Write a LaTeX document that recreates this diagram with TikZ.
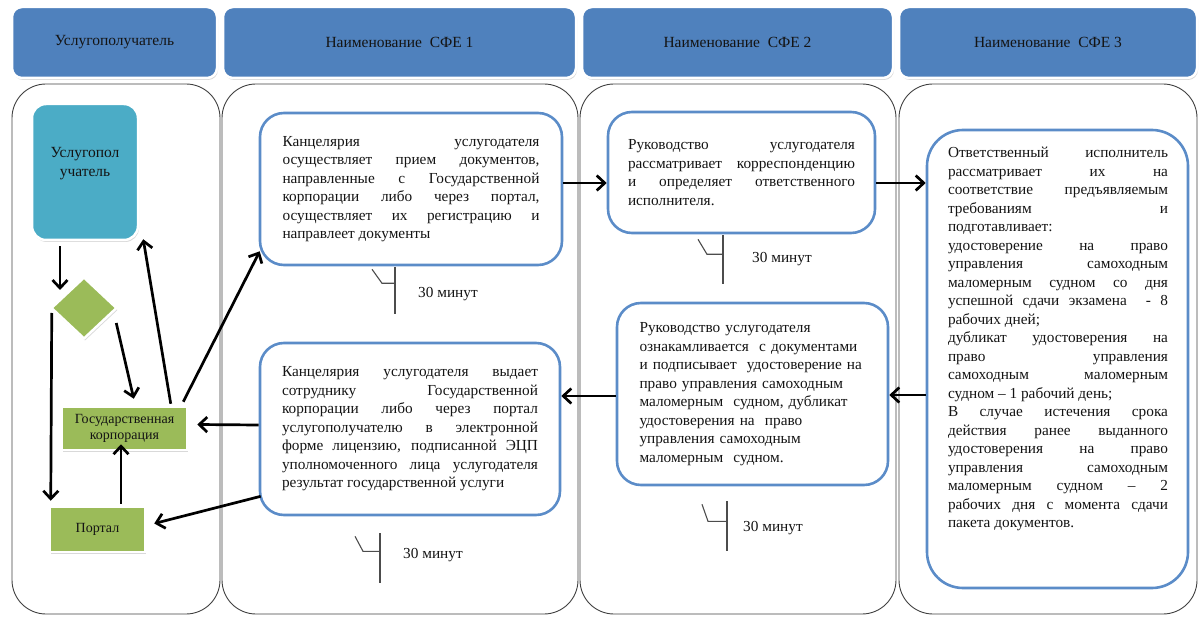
\documentclass[tikz,border=0pt]{standalone}
\usepackage{fontspec}
\setmainfont{Liberation Serif}
\usetikzlibrary{arrows.meta,shapes.geometric,shadows,calc}
\definecolor{hdrblue}{HTML}{4F81BD}
\definecolor{boxblue}{HTML}{5B8CC8}
\definecolor{uslteal}{HTML}{4BACC6}
\definecolor{grn}{HTML}{9BBB59}
\definecolor{ink}{HTML}{141414}
\setlength{\parindent}{0pt}
\tolerance=10000
\hbadness=10000
\hyphenpenalty=10000
\exhyphenpenalty=10000
\newcommand\bodyfont{\fontsize{15.3}{18.5}\selectfont}
\tikzset{
  hdr/.style={draw=white, line width=2.5pt, fill=hdrblue, rounded corners=10pt,
    drop shadow={opacity=0.3, shadow xshift=1pt, shadow yshift=-2pt},
    font=\fontsize{15.5}{18}\selectfont, text=ink, inner sep=0pt},
  lane/.style={draw=black!75, line width=0.9pt, rounded corners=34pt, inner sep=0pt},
  proc/.style={draw=boxblue, line width=2.6pt, fill=white, rounded corners=24pt,
    font=\bodyfont, text=ink, inner sep=0pt},
  colbox/.style={draw=white, line width=2.5pt, fill=grn, inner sep=0pt,
    drop shadow={opacity=0.3, shadow xshift=1pt, shadow yshift=-2pt},
    font=\fontsize{14}{16.5}\selectfont, text=ink, align=center},
  arr/.style={line width=2.7pt, -{Straight Barb[length=8pt,width=15pt]}},
  tmr/.style={line width=1.1pt, draw=black!70},
  tlabel/.style={font=\fontsize{15.3}{18}\selectfont, text=ink, inner sep=0pt}
}
\begin{document}
\begin{tikzpicture}[x=1pt,y=-1pt]
\useasboundingbox (0,0) rectangle (1202,628);
% lanes
\node[lane, minimum width=208, minimum height=530] (lane1) at (116,349) {};
\node[lane, minimum width=356, minimum height=530] (lane2) at (400,349) {};
\node[lane, minimum width=316, minimum height=530] (lane3) at (738,349) {};
\node[lane, minimum width=298, minimum height=530] (lane4) at (1048,349) {};
% headers
\node[hdr, minimum width=205, minimum height=71] (h1) at (114.5,42.5) {Услугополучатель};
\node[hdr, minimum width=353, minimum height=71] (h2) at (399.5,42.5) {Наименование\ \ СФЕ 1};
\node[hdr, minimum width=311, minimum height=71] (h3) at (737.5,42.5) {Наименование\ \ СФЕ 2};
\node[hdr, minimum width=298, minimum height=71] (h4) at (1048,42.5) {Наименование\ \ СФЕ 3};
% lane 1 shapes
\node[draw=white, line width=2.5pt, fill=uslteal, rounded corners=14pt, inner sep=0pt,
  drop shadow={opacity=0.3, shadow xshift=1pt, shadow yshift=-2pt},
  minimum width=106, minimum height=136] (usl) at (85,172) {};
\node[font=\fontsize{15.5}{19}\selectfont, text=ink, align=center, inner sep=0pt] (usltext) at (85,164) {Услугопол\\учатель};
\node[diamond, draw=white, line width=2.5pt, fill=grn, inner sep=0pt,
  drop shadow={opacity=0.3, shadow xshift=1pt, shadow yshift=-2pt},
  minimum width=66, minimum height=62] (dia) at (84,308) {};
\node[colbox, minimum width=125, minimum height=43] (gos) at (124.5,428.5) {Государственная\\корпорация};
\node[colbox, minimum width=95, minimum height=45] (portal) at (97.5,529.5) {Портал};
% process boxes
\node[proc, minimum width=302, minimum height=152, text width=257, align=justify] (b1) at (411,189) {Канцелярия услугодателя\linebreak
осуществляет прием документов,\linebreak
направленные с Государственной\linebreak
корпорации либо через портал,\linebreak
осуществляет их регистрацию и\linebreak
направлеет документы};
\node[proc, minimum width=300, minimum height=172, text width=256, align=justify] (b2) at (410,429) {Канцелярия услугодателя выдает\linebreak
сотруднику Государственной\linebreak
корпорации либо через портал\linebreak
услугополучателю в электронной\linebreak
форме лицензию, подписанной ЭЦП\linebreak
уполномоченного лица услугодателя\linebreak
результат государственной услуги};
\node[proc, minimum width=267, minimum height=121, text width=227, align=justify] (c1) at (741.5,172.5) {Руководство услугодателя\linebreak
рассматривает корреспонденцию\linebreak
и определяет ответственного\linebreak
исполнителя.};
\node[proc, minimum width=271, minimum height=182, text width=226, align=left] (c2) at (752.5,394) {Руководство услугодателя\\
ознакамливается\ \ с документами\\
и подписывает\ \ удостоверение на\\
право управления самоходным\\
маломерным\ \ судном, дубликат\\
удостоверения на\ \ право\\
управления самоходным\\
маломерным\ \ судном.};
\node[proc, rounded corners=36pt, minimum width=261, minimum height=458] (d) at (1057.5,359) {};
\node[font=\bodyfont, text=ink, inner sep=0pt, text width=220, align=justify, anchor=north] (dtext) at (1058,147) {Ответственный исполнитель\linebreak
рассматривает их на\linebreak
соответствие предъявляемым\linebreak
требованиям и\linebreak
подготавливает:\par
удостоверение на право\linebreak
управления самоходным\linebreak
маломерным судном со дня\linebreak
успешной сдачи экзамена\ \ - 8\linebreak
рабочих дней;\par
дубликат удостоверения на\linebreak
право управления\linebreak
самоходным маломерным\linebreak
судном – 1 рабочий день;\par
В случае истечения срока\linebreak
действия ранее выданного\linebreak
удостоверения на право\linebreak
управления самоходным\linebreak
маломерным судном – 2\linebreak
рабочих дня с момента сдачи\linebreak
пакета документов.};
% lane 1 connectors
\coordinate (diatop) at (60,290);
\draw[arr] ($(usl.south)+(-25,5)$) -- (diatop);
\draw[arr] ($(dia.west)+(2,5)$) -- ($(portal.north west)+(2,-5)$);
\draw[arr] ($(dia.east)+(-2,15)$) -- ($(gos.north west)+(73,-7)$);
\draw[arr] ($(gos.north west)+(110,-2)$) -- ($(usl.south east)+(4,-2)$);
\draw[arr] ($(gos.north east)+(-5,-4)$) -- ($(b1.south west)+(1,-15)$);
\draw[arr] ($(b2.west)+(0,-4)$) -- ($(gos.east)+(9,-4)$);
\draw[arr] ($(b2.south west)+(2,-20)$) -- ($(portal.east)+(8,-6)$);
\draw[arr] ($(portal.north)+(23.5,-2)$) -- ($(gos.south)+(-3.5,-7)$);
% flow connectors
\draw[arr] ($(b1.east)+(0,-6)$) -- ($(c1.west)+(0,10.5)$);
\draw[arr] ($(c1.east)+(0,10.5)$) -- ($(d.west)+(0,-176)$);
\draw[arr] ($(d.west)+(0,36)$) -- ($(c2.east)+(0,1)$);
\draw[arr] ($(c2.west)+(0,2)$) -- ($(b2.east)+(0,-33)$);
% timers
\draw[tmr] ($(b1.south)+(-16,1)$) -- ++(0,47);
\draw[tmr] ($(b1.south)+(-39,3)$) -- ++(10,14) -- ++(13,0);
\node[tlabel, anchor=west] (t1) at ($(b1.south)+(7,28)$) {30 минут};
\draw[tmr] ($(b2.south)+(-30,17)$) -- ++(0,50);
\draw[tmr] ($(b2.south)+(-55,20)$) -- ++(8,15) -- ++(17,0);
\node[tlabel, anchor=west] (t2) at ($(b2.south)+(-7,39)$) {30 минут};
\draw[tmr] ($(c1.south)+(-18.5,1)$) -- ++(0,49);
\draw[tmr] ($(c1.south)+(-43.5,5)$) -- ++(9,15) -- ++(16,0);
\node[tlabel, anchor=west] (t3) at ($(c1.south)+(10.5,25)$) {30 минут};
\draw[tmr] ($(c2.south)+(-25.5,15)$) -- ++(0,50);
\draw[tmr] ($(c2.south)+(-50.5,18)$) -- ++(6,17) -- ++(19,0);
\node[tlabel, anchor=west] (t4) at ($(c2.south)+(-9.5,42)$) {30 минут};
\end{tikzpicture}
\end{document}
